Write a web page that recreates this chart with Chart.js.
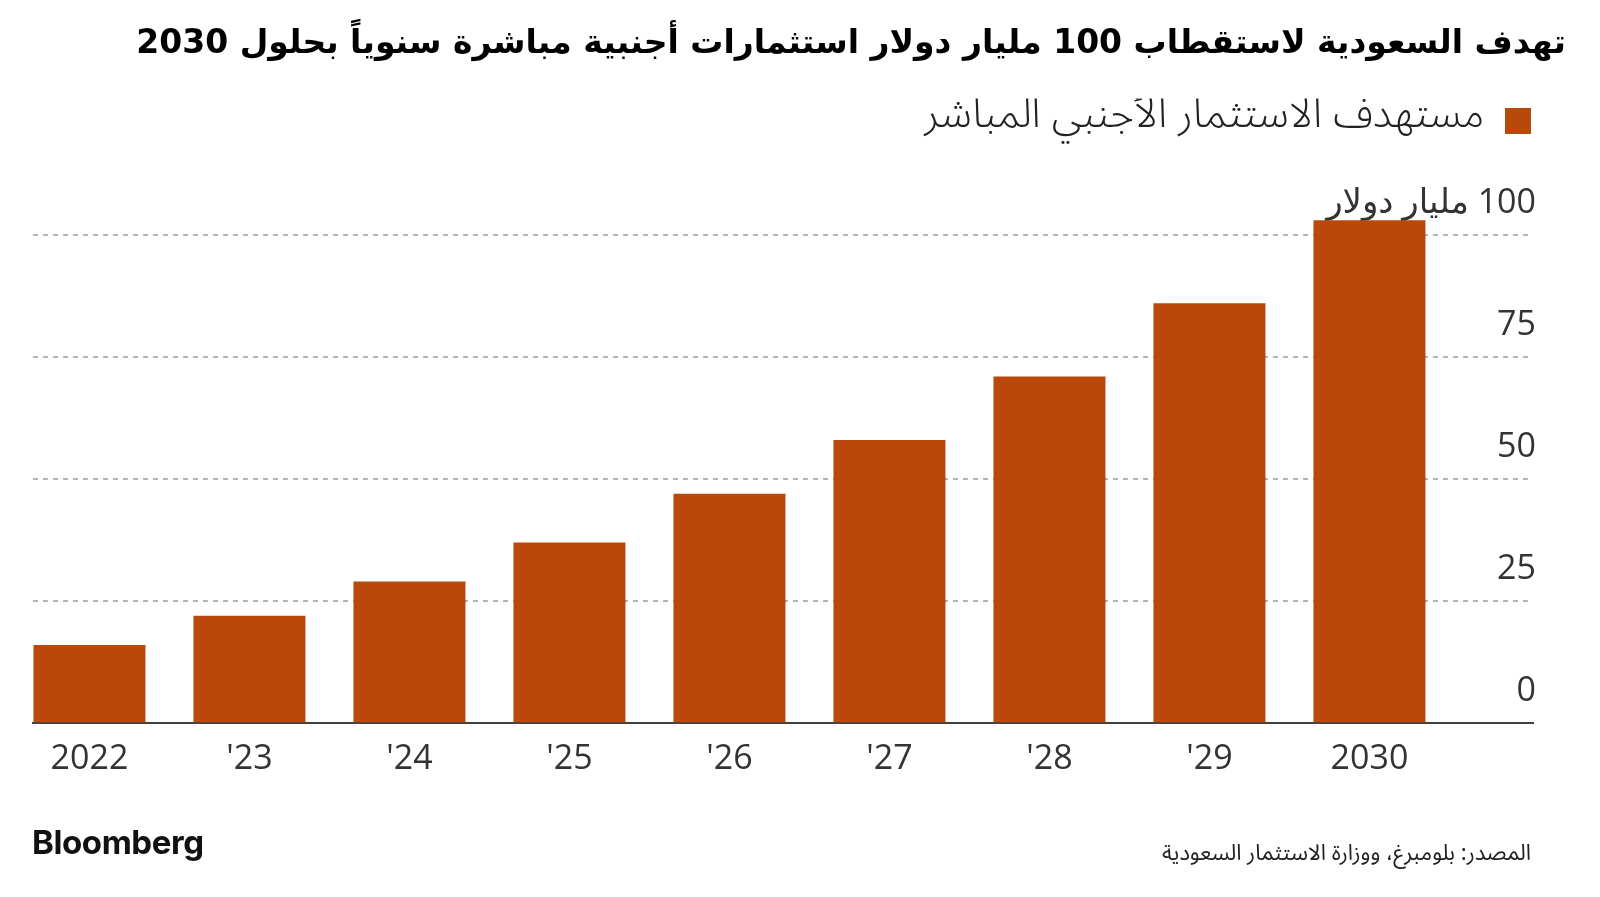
<!DOCTYPE html>
<html lang="ar">
<head>
<meta charset="utf-8">
<script src="https://cdn.jsdelivr.net/npm/chart.js@4.4.1/dist/chart.umd.min.js"></script>
<style>
html,body{margin:0;padding:0;background:#fff;}
#wrap{position:relative;width:1600px;height:897px;overflow:hidden;}
#chart{position:absolute;left:0;top:0;}
.logo{position:absolute;left:32px;top:822px;height:40px;line-height:40px;font-family:Inter,"Open Sans",sans-serif;font-weight:700;font-size:33px;color:#111;letter-spacing:-0.4px;}
.src{position:absolute;right:69px;top:838px;height:30px;line-height:30px;direction:rtl;font-family:"Noto Sans Arabic","DejaVu Sans",sans-serif;font-size:22px;color:#222;}
</style>
</head>
<body>
<div id="wrap">
<canvas id="chart" width="1600" height="897" dir="ltr"></canvas>
<div class="logo">Bloomberg</div>
<div class="src" dir="rtl">المصدر: بلومبرغ، ووزارة الاستثمار السعودية</div>
</div>
<script>
// ---- data ----
const categories = ["2022", "'23", "'24", "'25", "'26", "'27", "'28", "'29", "2030"];
const fdiTarget = [16, 22, 29, 37, 47, 58, 71, 86, 103];
const yTickValues = [0, 25, 50, 75, 100];
const seriesLabel = "مستهدف الاستثمار الأجنبي المباشر";
const unitLabel = "مليار دولار";
const titleText = "تهدف السعودية لاستقطاب 100 مليار دولار استثمارات أجنبية مباشرة سنوياً بحلول 2030";

const barColor = "#B8490A";
const points = categories.map((c, i) => ({ x: i, y: fdiTarget[i] }));

const legendSpacer = {
  id: 'legendSpacer',
  beforeInit(chart) {
    const origFit = chart.legend.fit;
    chart.legend.fit = function () {
      origFit.call(this);
      this.height += 59;
    };
  }
};

new Chart(document.getElementById('chart'), {
  type: 'bar',
  data: {
    datasets: [{
      label: seriesLabel,
      data: points,
      backgroundColor: barColor,
      borderWidth: 0,
      barPercentage: 0.7,
      categoryPercentage: 1.0
    }]
  },
  options: {
    responsive: false,
    animation: false,
    layout: { padding: { left: 33, right: 34, top: 0, bottom: 101 } },
    plugins: {
      tooltip: { enabled: false },
      title: {
        display: true,
        text: titleText,
        align: 'end',
        color: '#000',
        font: { family: "'DejaVu Sans', sans-serif", size: 33, weight: 'bold' },
        padding: { top: 25, bottom: 34 }
      },
      legend: {
        display: true,
        align: 'start',
        rtl: true,
        fullSize: false,
        labels: {
          boxWidth: 26,
          boxHeight: 26,
          color: '#222',
          padding: 2,
          font: { family: "'Noto Sans Arabic','DejaVu Sans', sans-serif", size: 41, weight: '300' }
        }
      }
    },
    scales: {
      x: {
        type: 'linear',
        min: -0.353,
        max: 9.022,
        offset: false,
        grid: { display: false, drawTicks: false },
        border: { display: true, color: '#404040', width: 2 },
        afterBuildTicks(scale) {
          scale.ticks = categories.map((c, i) => ({ value: i }));
        },
        ticks: {
          autoSkip: false,
          maxRotation: 0,
          padding: 16,
          color: '#333',
          font: { family: "'Open Sans', sans-serif", size: 34 },
          callback: (v) => categories[v]
        }
      },
      y: {
        position: 'right',
        min: 0,
        max: 105,
        grid: {
          drawTicks: false,
          lineWidth: 2,
          color: (ctx) => (ctx.tick && ctx.tick.value === 0) ? 'rgba(0,0,0,0)' : '#b4b4b4'
        },
        border: { display: false, dash: [5, 5] },
        afterBuildTicks(scale) {
          scale.ticks = yTickValues.map(v => ({ value: v }));
        },
        afterFit(scale) { scale.width = 33; },
        ticks: {
          mirror: true,
          padding: 3,
          labelOffset: -32,
          color: '#333',
          font: { family: "'Open Sans', 'DejaVu Sans', sans-serif", size: 34 },
          callback: (v) => v === 100 ? unitLabel + '\u200E ' + v : String(v)
        }
      }
    }
  },
  plugins: [legendSpacer]
});
</script>
</body>
</html>
